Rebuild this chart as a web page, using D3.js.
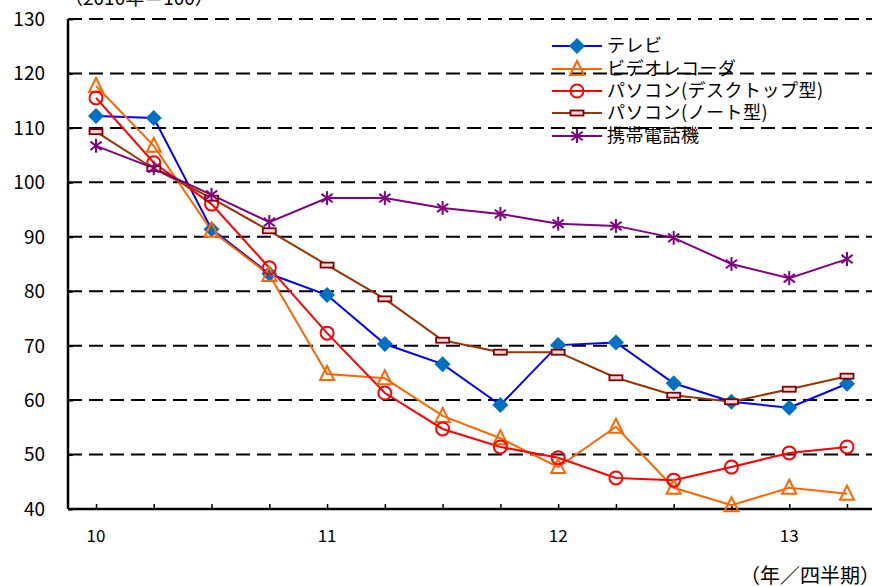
<!DOCTYPE html>
<html><head><meta charset="utf-8">
<script src="https://cdn.jsdelivr.net/npm/d3@7"></script>
<style>body{margin:0;background:#fff}svg{display:block}text{font-family:"Noto Sans CJK JP","Noto Sans",sans-serif}</style>
</head><body><svg id="c" width="872" height="586"></svg>
<script>
const quarters = ["10Q1","10Q2","10Q3","10Q4","11Q1","11Q2","11Q3","11Q4","12Q1","12Q2","12Q3","12Q4","13Q1","13Q2"];
const yearLabels = ["10","11","12","13"];
const yTicks = [40,50,60,70,80,90,100,110,120,130];
const seriesNames = ["テレビ","ビデオレコーダ","パソコン(デスクトップ型)","パソコン(ノート型)","携帯電話機"];
const tv       = [112.2,111.8,91.4,83.2,79.3,70.3,66.6,59.1,70.1,70.6,63.1,59.7,58.6,63.0];
const video    = [117.7,106.7,91.1,83.0,64.8,64.0,57.1,53.0,47.7,55.1,43.9,40.7,43.9,42.8];
const desktop  = [115.5,103.6,96.0,84.3,72.3,61.3,54.7,51.4,49.4,45.7,45.3,47.7,50.3,51.4];
const notebook = [109.3,102.5,97.1,91.1,84.8,78.6,71.0,68.8,68.8,64.1,60.9,59.7,62.0,64.4];
const mobile   = [106.7,102.6,97.7,92.7,97.1,97.1,95.3,94.2,92.4,92.0,89.8,85.0,82.4,85.9];

const svg = d3.select("#c");
const pLeft=68, pTop=19, pBottom=509, pRight=872;
const x = d3.scaleLinear().domain([0,13]).range([96,847]);
const y = d3.scaleLinear().domain([40,130]).range([pBottom,pTop]);

// gridlines
svg.append("g").selectAll("line").data(yTicks.filter(v=>v>40)).join("line")
  .attr("x1",pLeft).attr("x2",pRight).attr("y1",d=>y(d)).attr("y2",d=>y(d))
  .attr("stroke","#000").attr("stroke-width",2).attr("stroke-dasharray","14,7");

// y axis
const yAxis = d3.axisRight(y).tickValues(yTicks).tickSize(5).tickFormat("");
const gy = svg.append("g").attr("transform",`translate(${pLeft},0)`).call(yAxis);
gy.select(".domain").attr("stroke-width",2.5).attr("d",`M0,${pTop}V${pBottom}`);
gy.selectAll(".tick line").attr("stroke-width",2);
svg.append("g").selectAll("text").data(yTicks).join("text")
  .attr("x",45).attr("y",d=>y(d)).attr("dy","0.36em").attr("text-anchor","end")
  .attr("font-size",19).text(d=>d);

// x axis
const xAxis = d3.axisTop(x).tickValues(d3.range(quarters.length)).tickSize(5).tickFormat("");
const gx = svg.append("g").attr("transform",`translate(0,${pBottom})`).call(xAxis);
gx.select(".domain").attr("stroke-width",2.5).attr("d",`M${pLeft},0H${pRight}`);
gx.selectAll(".tick line").attr("stroke-width",1.5);
svg.append("g").selectAll("text").data(yearLabels).join("text")
  .attr("x",(d,i)=>x(i*4)).attr("y",542).attr("text-anchor","middle")
  .attr("font-size",17).text(d=>d);

svg.append("text").attr("x",880).attr("y",583).attr("text-anchor","end").attr("font-size",20).text("（年／四半期）");
svg.append("text").attr("x",64).attr("y",5).attr("font-size",19).text("（2010年＝100）");

const series = [
 {name:seriesNames[0], data:tv, line:"#0000FF", mark:"#0070C0", type:"diamond"},
 {name:seriesNames[1], data:video, line:"#FF6600", mark:"#FF6600", type:"triangle"},
 {name:seriesNames[2], data:desktop, line:"#FF0000", mark:"#FF0000", type:"circle"},
 {name:seriesNames[3], data:notebook, line:"#993300", mark:"#800000", type:"rect"},
 {name:seriesNames[4], data:mobile, line:"#800080", mark:"#800080", type:"star"}
];

function drawMarker(g, s, cx, cy){
  if(s.type==="diamond"){
    g.append("path").attr("d",`M${cx},${cy-8}L${cx+8},${cy}L${cx},${cy+8}L${cx-8},${cy}Z`).attr("fill",s.mark);
  } else if(s.type==="triangle"){
    g.append("path").attr("d",`M${cx},${cy-8}L${cx+7},${cy+6}L${cx-7},${cy+6}Z`).attr("fill","none").attr("stroke",s.mark).attr("stroke-width",2);
  } else if(s.type==="circle"){
    g.append("circle").attr("cx",cx).attr("cy",cy).attr("r",6.5).attr("fill","none").attr("stroke",s.mark).attr("stroke-width",2);
  } else if(s.type==="rect"){
    g.append("rect").attr("x",cx-6.5).attr("y",cy-2.5).attr("width",13).attr("height",5).attr("fill","#f3d6d6").attr("stroke",s.mark).attr("stroke-width",1.8);
  } else {
    const r=7;
    [[0,-r,0,r],[-r*0.8,-r*0.6,r*0.8,r*0.6],[-r*0.8,r*0.6,r*0.8,-r*0.6]].forEach(p=>{
      g.append("line").attr("x1",cx+p[0]).attr("y1",cy+p[1]).attr("x2",cx+p[2]).attr("y2",cy+p[3]).attr("stroke",s.mark).attr("stroke-width",2);
    });
  }
}

const line = d3.line().x((d,i)=>x(i)).y(d=>y(d));
series.forEach(s=>{
  svg.append("path").datum(s.data).attr("d",line).attr("fill","none").attr("stroke",s.line).attr("stroke-width",2);
});
series.forEach(s=>{
  const g = svg.append("g");
  s.data.forEach((v,i)=>drawMarker(g,s,x(i),y(v)));
});

// legend
const ly=[46,69,91,113,136];
series.forEach((s,i)=>{
  const g=svg.append("g");
  g.append("line").attr("x1",552).attr("x2",602).attr("y1",ly[i]).attr("y2",ly[i]).attr("stroke",s.line).attr("stroke-width",2);
  drawMarker(g,s,577,ly[i]);
  g.append("text").attr("x",607).attr("y",ly[i]).attr("dy","0.36em").attr("font-size",18).attr("letter-spacing",0.5).text(s.name);
});
</script></body></html>
